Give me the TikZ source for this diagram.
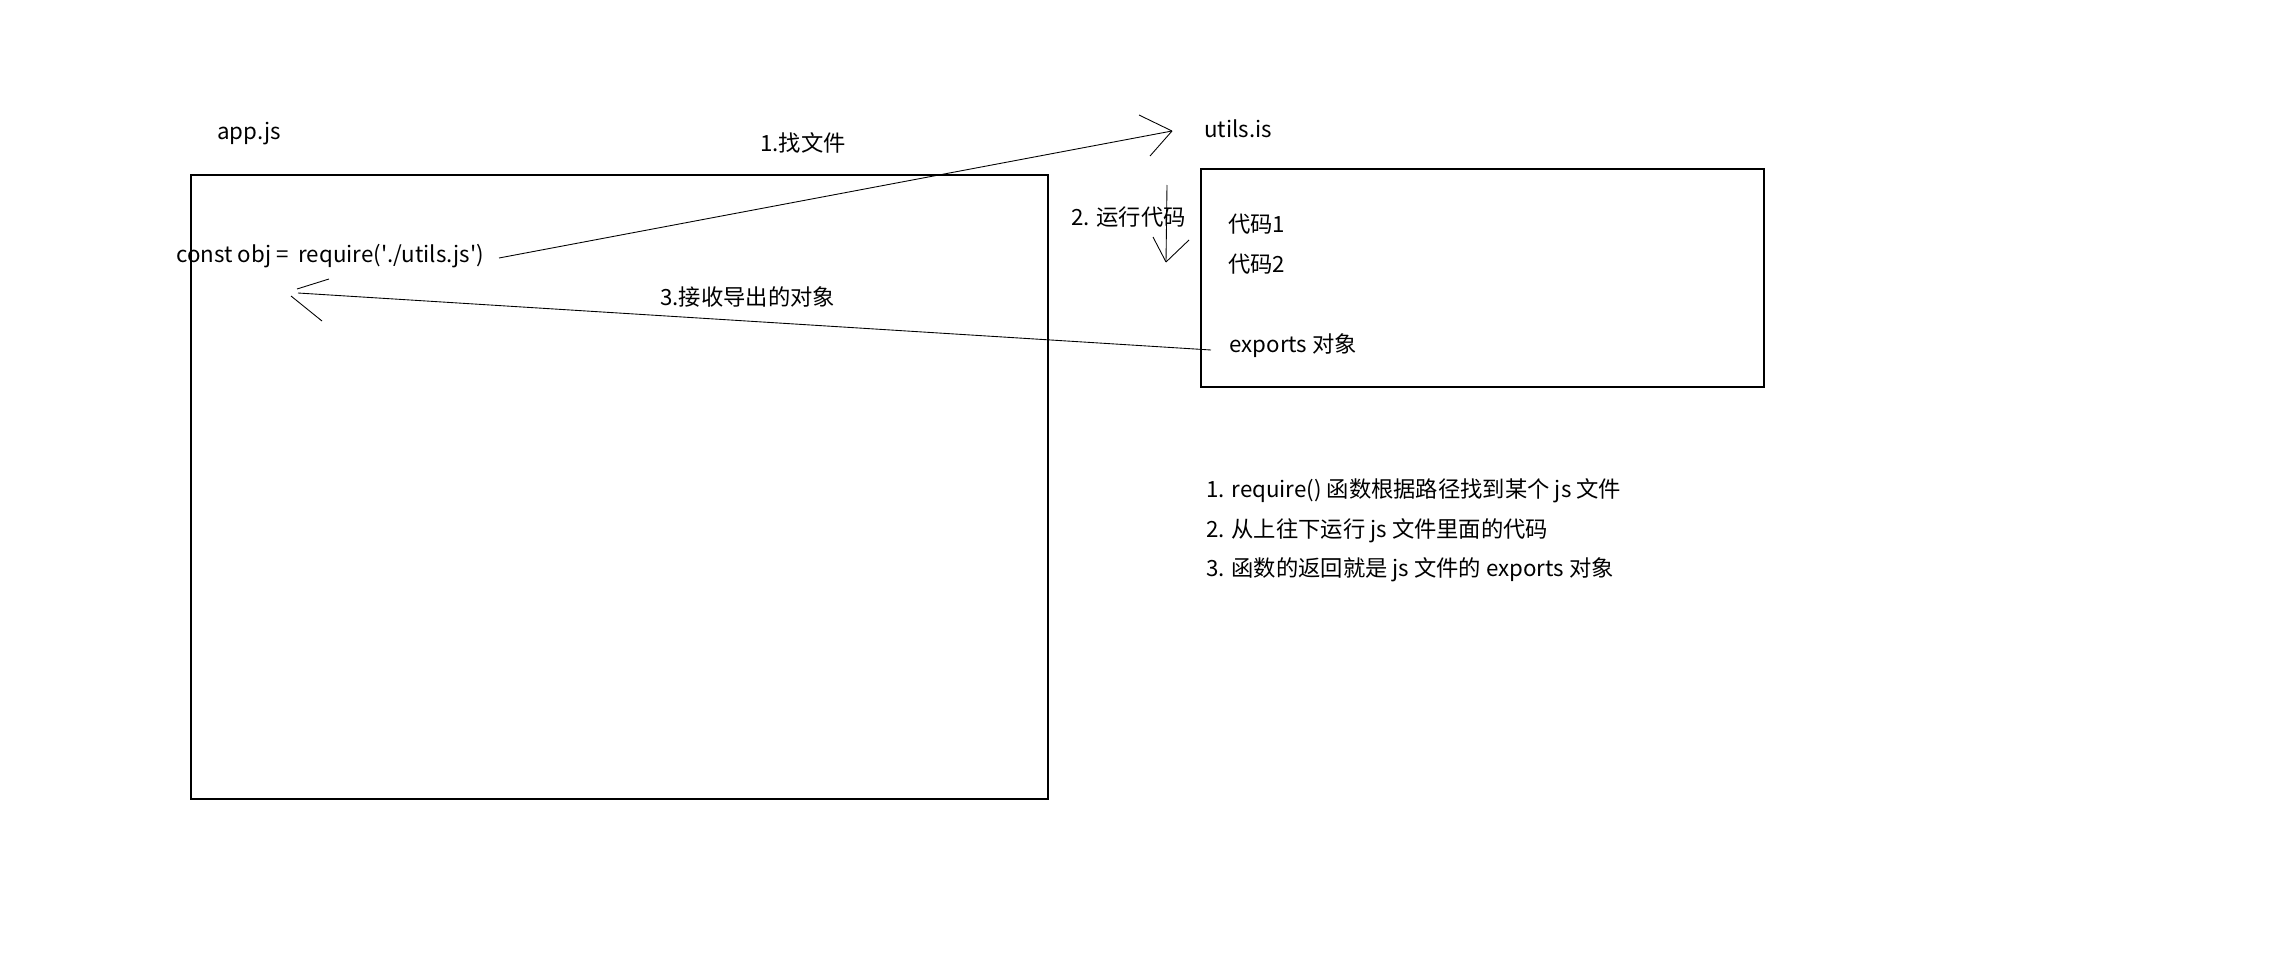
\documentclass[tikz,border=0pt]{standalone}
\usepackage{fontspec}
\setmainfont{Noto Sans CJK SC}
\begin{document}
\begin{tikzpicture}[x=0.02cm, y=-0.02cm, font=\fontsize{12.7}{15}\selectfont]
    \tikzset{frame/.style={draw, line width=0.6pt},
             txt/.style={anchor=base west, inner sep=0pt},
             pen/.style={line width=0.5pt}}
    \useasboundingbox (0,0) rectangle (2272,960);

    % Left box - app.js
    \coordinate (app_nw) at (191,175);
    \coordinate (app_se) at (1048,799);
    \draw[frame] (app_nw) rectangle (app_se);
    \node[txt] (app_name) at (217,139) {app.js};
    \node[txt] (req) at (176,262) {const obj =\ \ require(\textquotesingle./utils.js\textquotesingle)};

    % Right box - utils.js
    \coordinate (utils_nw) at (1201,169);
    \coordinate (utils_se) at (1764,387);
    \draw[frame] (utils_nw) rectangle (utils_se);
    \node[txt] (utils_name) at (1204,137) {utils.is};
    \node[txt] (code1) at (1228,232) {代码1};
    \node[txt] (code2) at (1228,272) {代码2};
    \node[txt] (exports) at (1229,352) {exports 对象};

    % Step 1 - find the file
    \coordinate (find_start) at (499,258);
    \coordinate (find_tip) at (1172,131);
    \draw[pen] (find_start) -- (find_tip);
    \draw[pen] (find_tip) -- ++(-33,-16);
    \draw[pen] (find_tip) -- ++(-22,25);
    \node[txt] (find_lbl) at (760,151) {1.找文件};

    % Step 2 - run the code
    \coordinate (run_top) at (1167,185);
    \coordinate (run_tip) at (1166,262);
    \draw[pen] (run_top) -- (run_tip);
    \draw[pen] (run_tip) -- ++(-13,-25);
    \draw[pen] (run_tip) -- ++(23,-22);
    \node[txt] (run_lbl) at (1071,225) {2. 运行代码};

    % Step 3 - receive the exports
    \coordinate (ret_start) at (1211,350);
    \coordinate (ret_tip) at (298,293);
    \draw[pen] (ret_start) -- (ret_tip);
    \draw[pen] (ret_tip) ++(-1,-4) -- ++(32,-10);
    \draw[pen] (ret_tip) ++(-7,3) -- ++(31,25);
    \node[txt] (ret_lbl) at (660,305) {3.接收导出的对象};

    % Notes
    \node[txt] (note1) at (1206,497) {1. require() 函数根据路径找到某个 js 文件};
    \node[txt] (note2) at (1206,537) {2. 从上往下运行 js 文件里面的代码};
    \node[txt] (note3) at (1206,576) {3. 函数的返回就是 js 文件的 exports 对象};
\end{tikzpicture}
\end{document}
